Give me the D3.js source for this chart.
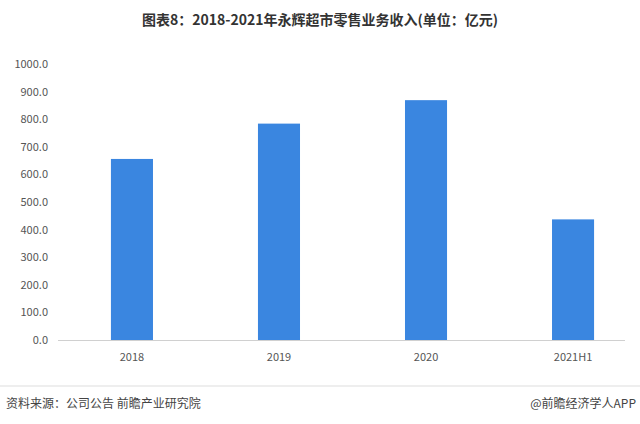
<!DOCTYPE html>
<html><head><meta charset="utf-8">
<script src="https://cdn.jsdelivr.net/npm/d3@7"></script>
<style>body{margin:0;background:#fff}text{font-family:"Noto Sans CJK SC","Noto Sans",sans-serif}</style>
</head><body><svg id="c" width="640" height="424"></svg>
<script>
const categories=["2018","2019","2020","2021H1"];
const values=[656,784,869,437];
const ticks=[0,100,200,300,400,500,600,700,800,900,1000];
const svg=d3.select("#c");
const m={l:58,r:625,t:64,b:340};
const x=d3.scaleBand().domain(categories).range([m.l,m.l+589]).paddingInner(0.714).paddingOuter(0.36);
const y=d3.scaleLinear().domain([0,1000]).range([m.b,m.t]);
svg.append("text").attr("x",320).attr("y",25).attr("text-anchor","middle").attr("font-size",14).attr("font-weight","bold").attr("fill","#333").text("图表8：2018-2021年永辉超市零售业务收入(单位：亿元)");
const ya=svg.append("g").attr("transform",`translate(${m.l},0)`).call(d3.axisLeft(y).tickValues(ticks).tickFormat(d3.format(".1f")).tickSize(0).tickPadding(10));
ya.select(".domain").remove();
ya.selectAll("text").attr("font-size",11).attr("fill","#555");
svg.append("line").attr("x1",m.l).attr("x2",m.r).attr("y1",m.b+0.5).attr("y2",m.b+0.5).attr("stroke","#d0d0d0");
svg.selectAll("rect.b").data(values).join("rect").attr("class","b")
 .attr("x",(d,i)=>x(categories[i])).attr("width",x.bandwidth())
 .attr("y",d=>y(d)).attr("height",d=>y(0)-y(d)).attr("fill","#3a86e0");
const xa=svg.append("g").attr("transform",`translate(0,${m.b})`).call(d3.axisBottom(x).tickSize(0).tickPadding(13));
xa.select(".domain").remove();
xa.selectAll("text").attr("font-size",11).attr("fill","#555");
svg.append("line").attr("x1",0).attr("x2",640).attr("y1",386).attr("y2",386).attr("stroke","#ddd");
svg.append("text").attr("x",6).attr("y",408).attr("font-size",12).attr("fill","#444").text("资料来源：公司公告 前瞻产业研究院");
svg.append("text").attr("x",636).attr("y",408).attr("text-anchor","end").attr("font-size",12).attr("fill","#444").text("@前瞻经济学人APP");
</script></body></html>
